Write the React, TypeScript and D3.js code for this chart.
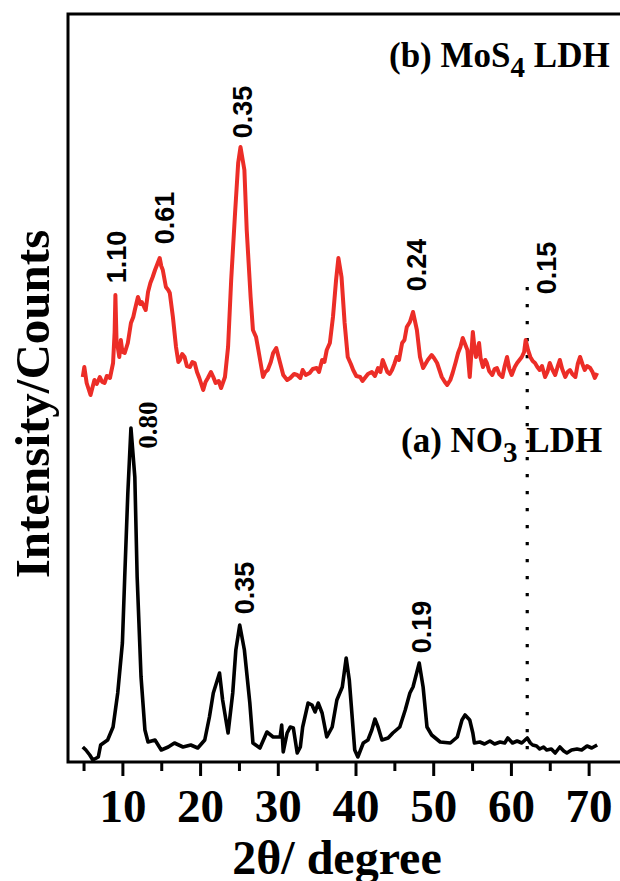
import React, { useRef, useEffect } from 'react';
import * as d3 from 'd3';

// 2θ (degree) and intensity (counts)
const no3Theta = [4.9, 5.3, 5.8, 6.2, 6.9, 7.2, 8.1, 8.8, 9.4, 10.0, 10.3, 10.7, 11.1, 11.6, 11.9, 12.4, 12.9, 13.3, 14.2, 15.0, 15.9, 16.7, 17.8, 18.8, 19.7, 20.6, 21.2, 21.7, 22.5, 22.9, 23.6, 24.2, 24.6, 25.1, 25.7, 26.4, 26.8, 27.7, 28.6, 29.4, 30.3, 30.5, 30.7, 31.2, 31.6, 32.0, 32.5, 32.9, 33.2, 33.9, 34.4, 34.8, 35.2, 35.7, 36.3, 37.0, 37.6, 38.3, 38.8, 39.2, 39.6, 39.9, 40.3, 41.0, 41.6, 42.1, 42.5, 42.9, 43.4, 44.2, 44.8, 45.7, 46.4, 47.0, 47.4, 48.2, 48.7, 49.2, 49.8, 50.9, 52.2, 53.1, 53.7, 54.1, 54.7, 55.1, 55.3, 56.0, 56.6, 57.3, 57.9, 58.6, 59.2, 59.6, 60.2, 60.8, 61.4, 62.1, 62.5, 62.8, 63.3, 63.7, 64.2, 64.6, 65.2, 65.7, 66.3, 66.8, 67.2, 67.8, 68.5, 69.1, 69.8, 70.4, 71.1];
const no3Counts = [15, 12, 7, 2, 5, 17, 22, 35, 69, 119, 185, 269, 334, 285, 185, 85, 32, 20, 22, 12, 15, 19, 15, 17, 14, 22, 45, 69, 89, 62, 29, 69, 112, 137, 112, 59, 19, 14, 30, 25, 25, 37, 10, 29, 35, 34, 9, 15, 35, 59, 57, 50, 59, 49, 25, 35, 62, 75, 104, 82, 42, 12, 5, 19, 22, 32, 43, 35, 22, 24, 29, 35, 52, 69, 75, 99, 75, 35, 27, 20, 19, 25, 42, 47, 42, 29, 19, 20, 18, 21, 18, 20, 19, 24, 19, 21, 19, 24, 19, 17, 16, 13, 15, 12, 13, 9, 15, 11, 9, 12, 13, 12, 16, 14, 17];

const mos4Theta = [4.9, 5.1, 5.4, 5.9, 6.4, 6.7, 7.1, 7.4, 7.7, 8.0, 8.4, 8.8, 9.0, 9.1, 9.25, 9.4, 9.6, 9.8, 10.0, 10.3, 10.7, 11.1, 11.4, 11.6, 12.0, 12.3, 12.5, 12.8, 13.0, 13.3, 13.6, 13.9, 14.2, 14.5, 14.8, 15.0, 15.2, 15.6, 15.9, 16.1, 16.5, 16.9, 17.2, 17.4, 17.7, 18.0, 18.3, 18.7, 19.0, 19.3, 19.6, 19.9, 20.4, 20.7, 21.0, 21.4, 21.7, 22.0, 22.4, 22.7, 23.2, 23.6, 24.0, 24.5, 24.9, 25.2, 25.7, 26.0, 26.5, 26.8, 27.2, 27.5, 28.1, 28.4, 28.7, 29.1, 29.4, 29.8, 30.3, 30.7, 31.2, 31.6, 32.1, 32.5, 32.9, 33.2, 33.6, 34.1, 34.5, 35.0, 35.3, 35.7, 36.0, 36.3, 36.7, 37.1, 37.5, 37.8, 38.2, 38.6, 39.0, 39.4, 39.7, 40.1, 40.6, 40.9, 41.2, 41.6, 42.1, 42.5, 42.9, 43.2, 43.5, 43.8, 44.1, 44.4, 44.7, 45.0, 45.3, 45.6, 46.0, 46.3, 46.6, 47.0, 47.4, 47.9, 48.3, 48.7, 49.0, 49.3, 49.8, 50.1, 50.5, 50.8, 51.1, 51.5, 51.8, 52.2, 52.5, 52.9, 53.2, 53.5, 53.8, 54.1, 54.4, 54.7, 55.1, 55.3, 55.5, 55.7, 55.9, 56.1, 56.4, 56.7, 56.9, 57.2, 57.6, 57.9, 58.2, 58.5, 58.9, 59.2, 59.5, 59.8, 60.1, 60.5, 60.8, 61.1, 61.4, 61.7, 61.9, 62.2, 62.5, 62.8, 63.1, 63.4, 63.7, 64.0, 64.4, 64.7, 65.0, 65.3, 65.7, 66.0, 66.3, 66.6, 67.0, 67.3, 67.6, 67.9, 68.3, 68.6, 68.9, 69.2, 69.5, 69.8, 70.2, 70.5, 70.8, 71.1];
const mos4Counts = [25, 35, 19, 7, 22, 18, 25, 20, 19, 26, 24, 39, 70, 107, 60, 55, 45, 62, 50, 49, 59, 79, 85, 92, 105, 98, 100, 95, 92, 110, 119, 125, 132, 138, 144, 136, 132, 115, 112, 109, 85, 55, 40, 42, 48, 45, 36, 35, 40, 39, 30, 24, 12, 20, 24, 30, 25, 19, 21, 14, 25, 55, 122, 189, 239, 255, 232, 172, 105, 72, 65, 52, 25, 30, 32, 40, 49, 54, 39, 27, 22, 24, 28, 27, 24, 32, 27, 29, 33, 34, 30, 42, 40, 52, 59, 85, 122, 144, 125, 79, 45, 38, 32, 26, 25, 21, 24, 28, 30, 26, 34, 30, 42, 36, 30, 28, 32, 38, 45, 42, 59, 62, 75, 80, 90, 72, 45, 34, 38, 42, 47, 44, 39, 32, 25, 20, 17, 22, 29, 40, 49, 55, 64, 58, 52, 25, 70, 55, 45, 52, 59, 44, 35, 42, 39, 31, 27, 33, 34, 28, 25, 36, 45, 33, 27, 35, 39, 42, 45, 50, 62, 52, 45, 41, 39, 35, 32, 36, 25, 30, 39, 33, 27, 35, 42, 33, 25, 30, 32, 28, 25, 38, 45, 38, 32, 36, 34, 30, 24, 29];
const mos4Offset = 360;

const minorTicks = [5, 15, 25, 35, 45, 55, 65];
const majorTicks = [10, 20, 30, 40, 50, 60, 70];

// d-spacing labels: [2θ, counts at label centre, text]
const mos4Peaks: [number, number, string][] = [
  [9.18, 505, '1.10'],
  [15.36, 544, '0.61'],
  [25.4, 650, '0.35'],
  [47.8, 497, '0.24'],
  [64.5, 494, '0.15'],
];
const no3Peaks: [number, number, string][] = [
  [25.65, 174, '0.35'],
  [48.4, 135, '0.19'],
];
const no3TopPeak: [number, number, string] = [13.2, 337, '0.80'];
const markerTheta = 62.1;
const markerTop = 475;

const SERIF = "'Times New Roman', 'Liberation Serif', serif";
const SANS = "Arial, 'Liberation Sans', sans-serif";

const XrdChart: React.FC = () => {
  const svgRef = useRef<SVGSVGElement>(null);

  useEffect(() => {
    const svg = d3.select(svgRef.current);
    svg.selectAll('*').remove();

    const left = 68;
    const top = 14;
    const bottom = 762;
    const right = 620;

    const x = d3.scaleLinear().domain([3, 74]).range([left, 619.7]);
    const y = d3.scaleLinear().domain([0, 750]).range([bottom, 12]);

    // frame
    svg.append('path')
      .attr('d', `M${left},${bottom}H${right}M${left},${bottom}V${top}H${right}`)
      .attr('fill', 'none')
      .attr('stroke', '#000')
      .attr('stroke-width', 3)
      .attr('stroke-linecap', 'square');

    // ticks
    const minor = svg.append('g')
      .attr('transform', `translate(0,${bottom})`)
      .call(d3.axisBottom(x).tickValues(minorTicks).tickSize(9).tickFormat(() => ''));
    minor.select('.domain').remove();
    minor.selectAll('line').attr('stroke-width', 3);

    const major = svg.append('g')
      .attr('transform', `translate(0,${bottom})`)
      .call(d3.axisBottom(x).tickValues(majorTicks).tickSize(14).tickFormat(d3.format('d')));
    major.select('.domain').remove();
    major.selectAll('line').attr('stroke-width', 3);
    major.selectAll('text')
      .attr('y', 60)
      .attr('dy', 0)
      .attr('fill', '#000')
      .style('font-family', SERIF)
      .style('font-size', '47px')
      .style('font-weight', 'bold');

    // dotted marker
    svg.append('line')
      .attr('x1', x(markerTheta)).attr('x2', x(markerTheta))
      .attr('y1', y(markerTop)).attr('y2', y(0))
      .attr('stroke', '#000')
      .attr('stroke-width', 3.2)
      .attr('stroke-dasharray', '3.2 13.8');

    const line = d3.line<[number, number]>()
      .x(d => x(d[0]))
      .y(d => y(d[1]));

    const no3Data: [number, number][] = no3Theta.map((t, i) => [t, no3Counts[i]]);
    const mos4Data: [number, number][] = mos4Theta.map((t, i) => [t, mos4Counts[i] + mos4Offset]);

    svg.append('path')
      .attr('d', line(no3Data))
      .attr('fill', 'none')
      .attr('stroke', '#000')
      .attr('stroke-width', 3.6)
      .attr('stroke-linejoin', 'round');

    svg.append('path')
      .attr('d', line(mos4Data))
      .attr('fill', 'none')
      .attr('stroke', '#ec2d27')
      .attr('stroke-width', 4)
      .attr('stroke-linejoin', 'round');

    // peak labels
    const addLabel = (p: [number, number, string], family: string, size: number) => {
      svg.append('text')
        .attr('transform', `translate(${x(p[0])},${y(p[1])}) rotate(-90)`)
        .attr('text-anchor', 'middle')
        .attr('dy', '0.36em')
        .style('font-family', family)
        .style('font-size', `${size}px`)
        .style('font-weight', 'bold')
        .text(p[2]);
    };
    mos4Peaks.forEach(p => addLabel(p, SANS, 27));
    no3Peaks.forEach(p => addLabel(p, SANS, 27));
    addLabel(no3TopPeak, SERIF, 27);

    // legends
    const legend = (lx: number, ly: number, a: string, sub: string, b: string) => {
      const t = svg.append('text')
        .attr('x', lx).attr('y', ly)
        .style('font-family', SERIF)
        .style('font-size', '35px')
        .style('font-weight', 'bold');
      t.append('tspan').text(a);
      t.append('tspan').attr('dy', 10).style('font-size', '29px').text(sub);
      t.append('tspan').attr('dy', -10).text(b);
    };
    legend(389, 67, '(b) MoS', '4', ' LDH');
    legend(401, 452, '(a) NO', '3', ' LDH');

    // axis titles
    svg.append('text')
      .attr('transform', 'translate(49,404) rotate(-90)')
      .attr('text-anchor', 'middle')
      .style('font-family', SERIF)
      .style('font-size', '49px')
      .style('font-weight', 'bold')
      .text('Intensity/Counts');

    svg.append('text')
      .attr('x', 337).attr('y', 874)
      .attr('text-anchor', 'middle')
      .style('font-family', SERIF)
      .style('font-size', '48px')
      .style('font-weight', 'bold')
      .text('2θ/ degree');
  }, []);

  return (
    <svg
      ref={svgRef}
      width={620}
      height={881}
      style={{ position: 'absolute', left: 0, top: 0, background: '#fff' }}
    />
  );
};

export default function App() {
  return <XrdChart />;
}
